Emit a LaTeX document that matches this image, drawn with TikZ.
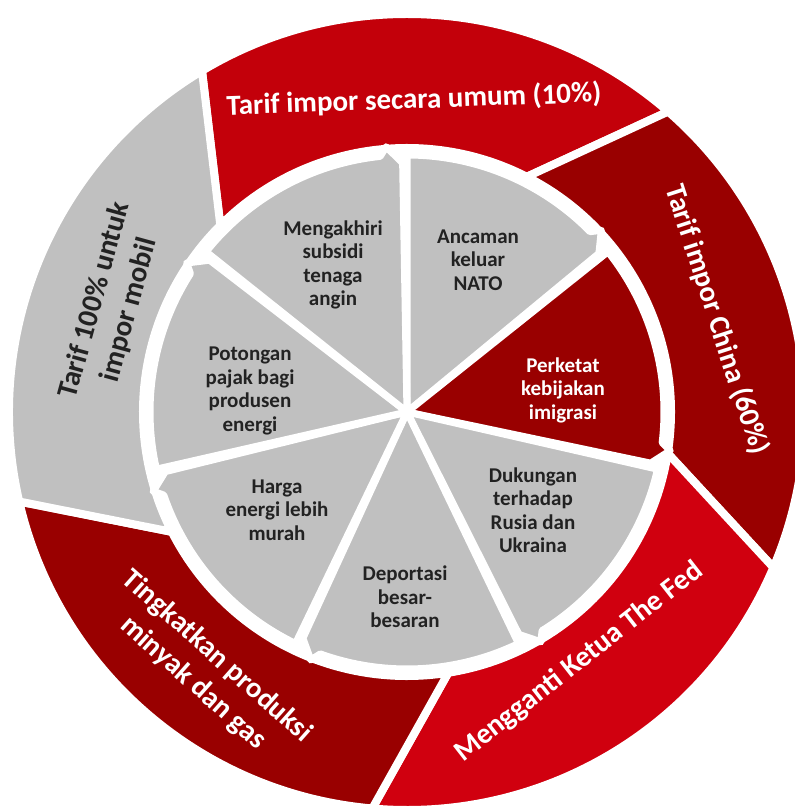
\documentclass[tikz,border=0pt]{standalone}
\usepackage{fontspec}
\setmainfont{Carlito}
\definecolor{brightred}{HTML}{C3000A}
\definecolor{brightredb}{HTML}{D0000F}
\definecolor{darkred}{HTML}{990000}
\definecolor{segray}{HTML}{C0C0C0}
\definecolor{txtdark}{HTML}{222222}
\tikzset{
 ringseg/.style={draw=white, line width=8pt, line join=round},
 pieseg/.style={draw=white, line width=7pt, line join=round},
 intext/.style={font=\fontsize{21}{23.5}\selectfont\bfseries, align=center, text=txtdark, inner sep=0pt},
 outtext/.style={font=\fontsize{29}{35.5}\selectfont\bfseries, align=center, text=white, inner sep=0pt},
}
\begin{document}
\begin{tikzpicture}[x=1pt,y=1pt]
\fill[white] (0,0) rectangle (795,812);
\useasboundingbox (0,0) rectangle (795,812);
\begin{scope}[shift={(407,400)}]
\foreach \a/\col in {121/brightred,49/darkred,-23/brightredb,-95/darkred,193/segray}{
  \pgfmathsetmacro{\b}{\a-72}
  \pgfmathsetmacro{\bi}{\a-58}
  \pgfmathsetmacro{\ai}{\a+14}
  \path[ringseg, fill=\col] (\a:398pt) arc[start angle=\a, end angle=\b, radius=398pt] -- (\bi:264pt) arc[start angle=\bi, end angle=\ai, radius=264pt] -- cycle;
}
\foreach \a/\col in {90/segray, 38.571/darkred, -12.857/segray, -64.286/segray, -115.714/segray, -167.143/segray, -218.571/segray}{
  \pgfmathsetmacro{\b}{\a-51.4286}
  \pgfmathsetmacro{\bt}{\b+6}
  \pgfmathsetmacro{\bp}{\b+4.5}
  \pgfmathsetmacro{\bq}{\b+1}
  \path[pieseg, fill=\col] (0,0) -- (\a:257pt) arc[start angle=\a, end angle=\bt, radius=257pt] -- (\bp:266pt) -- (\bq:249pt) -- cycle;
}
\end{scope}
\node[intext] (mengakhiri) at (333,547) {Mengakhiri\\subsidi\\tenaga\\angin};
\node[intext] (ancaman) at (478,552) {Ancaman\\keluar\\NATO};
\node[intext, text=white] (perketat) at (563,422) {Perketat\\kebijakan\\imigrasi};
\node[intext] (dukungan) at (533,302) {Dukungan\\terhadap\\Rusia dan\\Ukraina};
\node[intext] (deportasi) at (405,215) {Deportasi\\besar-\\besaran};
\node[intext] (harga) at (277,302) {Harga\\energi lebih\\murah};
\node[intext] (potongan) at (250,421) {Potongan\\pajak bagi\\produsen\\energi};
\node[outtext, rotate=2] (umum) at (414,712) {Tarif impor secara umum (10\%)};
\node[outtext, rotate=-72] (china) at (717,492) {Tarif impor China (60\%)};
\node[outtext, rotate=38] (fed) at (579,150) {Mengganti Ketua The Fed};
\node[outtext, rotate=-41.7] (tingkat) at (205,142) {Tingkatkan produksi\\minyak dan gas};
\node[outtext, rotate=74.6, text=txtdark] (mobil) at (112,507) {Tarif 100\% untuk\\impor mobil};
\end{tikzpicture}
\end{document}
